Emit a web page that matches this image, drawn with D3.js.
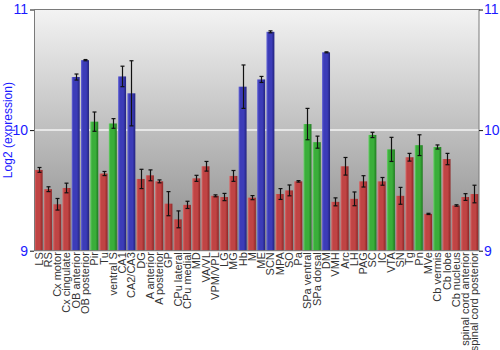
<!DOCTYPE html>
<html>
<head>
<meta charset="utf-8">
<script src="https://cdn.jsdelivr.net/npm/d3@7"></script>
<style>
  html, body { margin: 0; padding: 0; background: #fff; }
  svg { display: block; }
</style>
</head>
<body>
<svg id="chart" width="500" height="350"></svg>
<script>
const regions = ["LS","RS","Cx motor","Cx cingulate","OB anterior","OB posterior","Pir","Tu",
  "ventral S","CA1","CA2/CA3","DG","A anterior","A posterior","GP","CPu lateral","CPu medial",
  "MD","VA/VL","VPM/VPL","LG","MG","Hb","M","ME","SCN","MPA","SO","Pa","SPa ventral",
  "SPa dorsal","DM","VMH","Arc","LH","PAG","SC","IC","VTA","SN","Tg","Pn","MVe",
  "Cb vermis","Cb lobe","Cb nucleus","spinal cord anterior","spinal cord posterior"];

const expression = [9.67,9.51,9.385,9.52,10.44,10.58,10.07,9.64,
  10.055,10.445,10.305,9.595,9.625,9.575,9.39,9.26,9.38,
  9.60,9.70,9.455,9.445,9.62,10.36,9.44,10.42,10.815,9.47,9.50,9.575,10.05,
  9.90,10.645,9.405,9.70,9.43,9.575,9.96,9.575,9.84,9.455,9.775,9.875,9.305,
  9.86,9.76,9.375,9.445,9.47];

const stdError = [0.02,0.02,0.048,0.04,0.025,0.005,0.08,0.017,
  0.04,0.085,0.27,0.08,0.045,0.012,0.1,0.07,0.03,
  0.025,0.04,0.008,0.03,0.045,0.18,0.017,0.025,0.008,0.045,0.045,0.006,0.13,
  0.05,0.004,0.033,0.073,0.057,0.047,0.022,0.032,0.1,0.07,0.032,0.086,0.005,
  0.017,0.047,0.006,0.028,0.073];

// r = red, b = blue, g = green
const group = ["r","r","r","r","b","b","g","r",
  "g","b","b","r","r","r","r","r","r",
  "r","r","r","r","r","b","r","b","b","r","r","r","g",
  "g","b","r","r","r","r","g","r","g","r","r","g","r",
  "g","r","r","r","r"];

const yTicks = [9, 10, 11];

const svg = d3.select("#chart");
const m = { left: 34, right: 21, top: 9.5, bottom: 99.3 };
const W = 500, H = 350;
const innerW = W - m.left - m.right;
const innerH = H - m.top - m.bottom;

const x = d3.scaleBand().domain(regions).range([m.left, m.left + innerW]).paddingInner(0.14).paddingOuter(0.07);
const y = d3.scaleLinear().domain([9, 11]).range([m.top + innerH, m.top]);

const defs = svg.append("defs");
const bg = defs.append("linearGradient").attr("id", "bg").attr("x1", 0).attr("y1", 0).attr("x2", 0).attr("y2", 1);
bg.append("stop").attr("offset", "0%").attr("stop-color", "#f3f3f3");
bg.append("stop").attr("offset", "100%").attr("stop-color", "#8a8a8a");

const palette = {
  r: ["#d86a6a", "#c04444", "#8e2626"],
  b: ["#6a6ad8", "#3c3cb8", "#22227e"],
  g: ["#6ad06a", "#3aae3a", "#1f7a1f"]
};
Object.entries(palette).forEach(([k, c]) => {
  const g = defs.append("linearGradient").attr("id", "bar-" + k).attr("x1", 0).attr("y1", 0).attr("x2", 1).attr("y2", 0);
  g.append("stop").attr("offset", "0%").attr("stop-color", c[0]);
  g.append("stop").attr("offset", "22%").attr("stop-color", c[1]);
  g.append("stop").attr("offset", "65%").attr("stop-color", c[1]);
  g.append("stop").attr("offset", "100%").attr("stop-color", c[2]);
});

// plot background
svg.append("rect").attr("x", m.left).attr("y", m.top).attr("width", innerW).attr("height", innerH)
  .attr("fill", "url(#bg)");

// gridline at 10
svg.append("line").attr("x1", m.left).attr("x2", m.left + innerW)
  .attr("y1", y(10)).attr("y2", y(10)).attr("stroke", "#f4f4f4").attr("stroke-width", 1.5);

const bot = y(9);
svg.append("g").selectAll("rect").data(regions).join("rect")
  .attr("x", d => x(d)).attr("width", x.bandwidth())
  .attr("y", (d, i) => y(expression[i]))
  .attr("height", (d, i) => bot - y(expression[i]))
  .attr("fill", (d, i) => "url(#bar-" + group[i] + ")");

// error bars
const eb = svg.append("g").attr("stroke", "#111").attr("stroke-width", 1.2);
regions.forEach((d, i) => {
  const cx = Math.round(x(d) + x.bandwidth() / 2) + 0.5;
  const y1 = y(expression[i] + stdError[i]), y2 = y(expression[i] - stdError[i]);
  eb.append("line").attr("x1", cx).attr("x2", cx).attr("y1", y1).attr("y2", y2);
  eb.append("line").attr("x1", cx - 2).attr("x2", cx + 2).attr("y1", y1).attr("y2", y1);
  eb.append("line").attr("x1", cx - 2).attr("x2", cx + 2).attr("y1", y2).attr("y2", y2);
});

// frame
svg.append("rect").attr("x", m.left + 0.5).attr("y", m.top).attr("width", innerW - 0.5).attr("height", innerH)
  .attr("fill", "none").attr("stroke", "#7a7a7a").attr("stroke-width", 1);

// axes
const fmt = d3.format("d");
const yl = svg.append("g").attr("transform", `translate(${m.left},0)`)
  .call(d3.axisLeft(y).tickValues(yTicks).tickFormat(fmt).tickSize(4).tickPadding(2));
const yr = svg.append("g").attr("transform", `translate(${m.left + innerW},0)`)
  .call(d3.axisRight(y).tickValues(yTicks).tickFormat(fmt).tickSize(4).tickPadding(1));
[yl, yr].forEach(a => {
  a.select(".domain").remove();
  a.selectAll("line").attr("stroke", "#111");
  a.selectAll("text").attr("fill", "#1a1aff").attr("font-family", "Liberation Sans, Arial, sans-serif").attr("font-size", 14);
});

// category labels
svg.append("g").selectAll("text").data(regions).join("text")
  .attr("transform", d => `translate(${x(d) + x.bandwidth() / 2 + 4},${bot + 1.5}) rotate(-90)`)
  .attr("text-anchor", "end")
  .attr("font-family", "Liberation Sans, Arial, sans-serif")
  .attr("font-size", 11)
  .attr("fill", "#333")
  .text(d => d);

// y title
svg.append("text")
  .attr("transform", `translate(12,${m.top + innerH / 2}) rotate(-90)`)
  .attr("text-anchor", "middle")
  .attr("font-family", "Liberation Sans, Arial, sans-serif")
  .attr("font-size", 12)
  .attr("fill", "#1a1aff")
  .text("Log2 (expression)");
</script>
</body>
</html>
